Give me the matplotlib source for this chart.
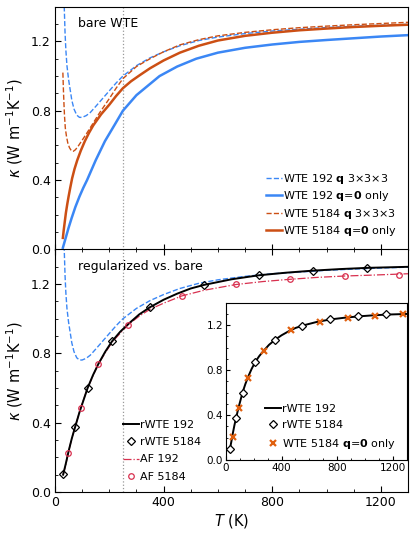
import numpy as np
import matplotlib
matplotlib.use("Agg")
import matplotlib.pyplot as plt
import matplotlib.ticker as ticker


# =====================================================
# DATA
# =====================================================

# WTE 192, q 3x3x3 (dashed blue)
T_wte192_q3 = [32, 34, 37, 40, 44, 50, 56, 62, 70, 80, 90, 100, 115, 130, 150,
               175, 200, 225, 250, 300, 350, 400, 460, 530, 600, 700, 800, 900,
               1000, 1100, 1200, 1300]
k_wte192_q3 = [1.55, 1.40, 1.25, 1.15, 1.06, 0.98, 0.92, 0.86, 0.81, 0.775,
               0.762, 0.762, 0.772, 0.79, 0.825, 0.87, 0.915, 0.96, 1.00, 1.06,
               1.105, 1.14, 1.175, 1.205, 1.225, 1.245, 1.26, 1.27, 1.28,
               1.287, 1.293, 1.298]

# WTE 192, q=0 only (solid blue)
T_wte192_q0 = [29, 40, 50, 61, 75, 90, 104, 118, 150, 184, 220, 250, 300, 385,
               450, 520, 600, 700, 800, 900, 1000, 1100, 1200, 1300]
k_wte192_q0 = [0.01, 0.07, 0.125, 0.18, 0.245, 0.305, 0.355, 0.40, 0.515,
               0.625, 0.72, 0.80, 0.89, 1.00, 1.055, 1.10, 1.135, 1.163, 1.182,
               1.197, 1.208, 1.218, 1.228, 1.236]

# WTE 5184, q 3x3x3 (dashed orange)
T_wte5184_q3 = [29, 31, 33, 35, 38, 42, 47, 53, 60, 67, 75, 85, 100, 116, 135,
                165, 200, 225, 250, 300, 350, 400, 460, 530, 600, 700, 800, 900,
                1000, 1100, 1200, 1300]
k_wte5184_q3 = [1.02, 0.92, 0.84, 0.77, 0.70, 0.655, 0.615, 0.588, 0.570,
                0.566, 0.575, 0.595, 0.63, 0.668, 0.715, 0.79, 0.87, 0.93,
                0.985, 1.055, 1.10, 1.14, 1.18, 1.21, 1.232, 1.252, 1.267,
                1.279, 1.288, 1.296, 1.303, 1.31]

# WTE 5184, q=0 only (solid orange)
T_wte5184_q0 = [29, 32, 36, 40, 45, 50, 56, 63, 72, 82, 95, 110, 125, 141, 170,
                200, 225, 250, 280, 312, 350, 400, 460, 530, 600, 700, 800, 900,
                1000, 1100, 1200, 1300]
k_wte5184_q0 = [0.067, 0.11, 0.16, 0.21, 0.26, 0.305, 0.355, 0.41, 0.465,
                0.515, 0.57, 0.625, 0.672, 0.716, 0.78, 0.835, 0.885, 0.93,
                0.97, 1.005, 1.045, 1.09, 1.135, 1.175, 1.205, 1.232, 1.25,
                1.264, 1.274, 1.283, 1.29, 1.296]

# rWTE 192 (black line)
T_rwte192 = [30, 40, 50, 62, 75, 90, 105, 120, 140, 160, 185, 210, 240, 270,
             310, 350, 400, 450, 500, 550, 650, 750, 850, 950, 1050, 1150, 1300]
k_rwte192 = [0.10, 0.165, 0.235, 0.31, 0.38, 0.46, 0.53, 0.60, 0.675, 0.74,
             0.81, 0.87, 0.925, 0.97, 1.025, 1.067, 1.11, 1.145, 1.175, 1.196,
             1.228, 1.251, 1.266, 1.278, 1.287, 1.294, 1.30]

# rWTE 5184 (diamonds)
T_rwte5184 = [30, 75, 120, 210, 350, 550, 750, 950, 1150]
k_rwte5184 = [0.102, 0.377, 0.598, 0.871, 1.067, 1.196, 1.251, 1.278, 1.295]

# AF 192 (dash-dot line)
T_af192 = [30, 40, 49, 62, 75, 94, 120, 159, 210, 269, 310, 350, 400, 467, 550,
           667, 766, 866, 966, 1067, 1166, 1300]
k_af192 = [0.10, 0.16, 0.227, 0.31, 0.38, 0.483, 0.60, 0.738, 0.865, 0.965,
           1.015, 1.055, 1.09, 1.132, 1.165, 1.198, 1.215, 1.228, 1.239,
           1.247, 1.252, 1.26]

# AF 5184 (open circles)
T_af5184 = [49, 94, 159, 269, 467, 667, 866, 1067, 1266]
k_af5184 = [0.227, 0.483, 0.738, 0.965, 1.132, 1.198, 1.228, 1.247, 1.255]

# WTE 5184 q=0 only, inset crosses
T_x5184 = [49, 94, 161, 271, 471, 674, 874, 1074, 1274]
k_x5184 = [0.207, 0.465, 0.731, 0.969, 1.153, 1.229, 1.265, 1.286, 1.295]

T_MARK = 250

# =====================================================
# STYLE
# =====================================================

BLUE = "#3b87f5"
ORANGE = "#cc4f14"
CRIMSON = "#d8304f"
CROSS = "#e0600f"

plt.rcParams.update({
    "font.family": "DejaVu Sans",
    "font.size": 8.5,
    "xtick.direction": "in",
    "ytick.direction": "in",
    "xtick.major.size": 4,
    "ytick.major.size": 4,
    "xtick.minor.size": 2,
    "ytick.minor.size": 2,
    "axes.linewidth": 0.8,
    "mathtext.fontset": "dejavusans",
})

W, H = 415, 533
fig = plt.figure(figsize=(W / 100, H / 100), dpi=100)

def fx(px):
    return px / W

def fy(py):
    return 1 - py / H

left, right = 55, 408
ax1 = fig.add_axes([fx(left), fy(249.5), fx(right - left), fy(6.7) - fy(249.5)])
ax2 = fig.add_axes([fx(left), fy(492), fx(right - left), fy(249.5) - fy(492)])
axi = fig.add_axes([fx(225.8), fy(460), fx(407 - 225.8), fy(302.7) - fy(460)])

ylab = r"$\kappa$ (W m$^{-1}$K$^{-1}$)"

for ax in (ax1, ax2):
    ax.set_xlim(0, 1300)
    ax.set_ylim(0, 1.4)
    ax.xaxis.set_major_locator(ticker.MultipleLocator(400))
    ax.xaxis.set_minor_locator(ticker.MultipleLocator(100))
    ax.yaxis.set_major_locator(ticker.MultipleLocator(0.4))
    ax.yaxis.set_minor_locator(ticker.MultipleLocator(0.1))
    ax.yaxis.set_major_formatter(ticker.FormatStrFormatter("%.1f"))
    ax.tick_params(labelsize=9, pad=3)
    ax.axvline(T_MARK, color="0.6", linestyle=":", linewidth=0.9, zorder=1)
    ax.set_ylabel(ylab, fontsize=10.5, labelpad=4)

ax1.tick_params(labelbottom=False)
ax2.tick_params(which="both", top=True)

# ---------------- top panel ----------------
ax1.plot(T_wte192_q3, k_wte192_q3, "--", color=BLUE, lw=1.0,
         label=r"WTE 192 $\mathbf{q}$ 3$\times$3$\times$3")
ax1.plot(T_wte192_q0, k_wte192_q0, "-", color=BLUE, lw=1.8,
         label=r"WTE 192 $\mathbf{q}$=$\mathbf{0}$ only")
ax1.plot(T_wte5184_q3, k_wte5184_q3, "--", color=ORANGE, lw=1.0,
         label=r"WTE 5184 $\mathbf{q}$ 3$\times$3$\times$3")
ax1.plot(T_wte5184_q0, k_wte5184_q0, "-", color=ORANGE, lw=1.8,
         label=r"WTE 5184 $\mathbf{q}$=$\mathbf{0}$ only")

ax1.text(0.065, 0.93, "bare WTE", transform=ax1.transAxes, fontsize=9,
         ha="left", va="center")

ax1.legend(loc="upper left", bbox_to_anchor=(fx(266), fy(172)),
           bbox_transform=fig.transFigure, frameon=False, fontsize=8,
           handlelength=1.4, handletextpad=0.15, labelspacing=0.3,
           borderpad=0, borderaxespad=0)

# ---------------- bottom panel ----------------
ax2.plot(T_wte192_q3, k_wte192_q3, "--", color=BLUE, lw=1.0)
ax2.plot(T_rwte192, k_rwte192, "-", color="black", lw=1.4, label="rWTE 192",
         zorder=4)
ax2.plot(T_rwte5184, k_rwte5184, "D", mfc="none", mec="black", ms=4.2,
         mew=0.9, ls="none", label="rWTE 5184", zorder=5)
ax2.plot(T_af192, k_af192, "-.", color=CRIMSON, lw=0.9, label="AF 192",
         zorder=3)
ax2.plot(T_af5184, k_af5184, "o", mfc="none", mec=CRIMSON, ms=4, mew=0.9,
         ls="none", label="AF 5184", zorder=5)

ax2.text(0.065, 0.93, "regularized vs. bare", transform=ax2.transAxes,
         fontsize=9, ha="left", va="center")
ax2.set_xlabel(r"$T$ (K)", fontsize=10.5, labelpad=2)

ax2.legend(loc="upper left", bbox_to_anchor=(fx(123), fy(420)),
           bbox_transform=fig.transFigure, frameon=False, fontsize=8,
           handlelength=1.4, handletextpad=0.15, labelspacing=0.65,
           borderpad=0, borderaxespad=0)

# ---------------- inset ----------------
axi.plot(T_rwte192, k_rwte192, "-", color="black", lw=1.4, label="rWTE 192")
axi.plot(T_rwte5184, k_rwte5184, "D", mfc="white", mec="black", ms=3.8,
         mew=0.9, ls="none", label="rWTE 5184", zorder=5)
axi.plot(T_x5184, k_x5184, "x", color=CROSS, ms=5, mew=1.6, ls="none",
         label=r"WTE 5184 $\mathbf{q}$=$\mathbf{0}$ only", zorder=6)
axi.set_xlim(0, 1300)
axi.set_ylim(0, 1.4)
axi.xaxis.set_major_locator(ticker.MultipleLocator(400))
axi.xaxis.set_minor_locator(ticker.MultipleLocator(100))
axi.yaxis.set_major_locator(ticker.MultipleLocator(0.4))
axi.yaxis.set_minor_locator(ticker.MultipleLocator(0.1))
axi.yaxis.set_major_formatter(ticker.FormatStrFormatter("%.1f"))
axi.tick_params(labelsize=7.5, pad=2)
axi.tick_params(which="major", length=3)
axi.tick_params(which="minor", length=1.5)

axi.legend(loc="upper left", bbox_to_anchor=(fx(265), fy(403.5)),
           bbox_transform=fig.transFigure, frameon=False, fontsize=8,
           handlelength=1.4, handletextpad=0.15, labelspacing=0.6,
           borderpad=0, borderaxespad=0)

fig.savefig("out.png", dpi=100, facecolor="white")
